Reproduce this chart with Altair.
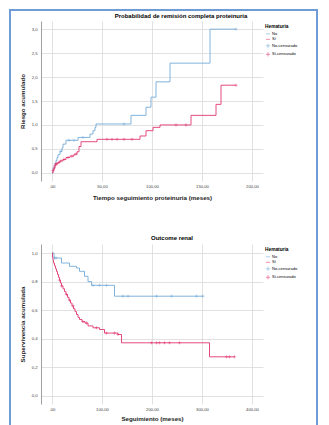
import altair as alt
import pandas as pd

BLUE = "#74aad8"
RED = "#e2386f"
FRAME = "#6f9bd6"
FONT = "Liberation Sans"

CATS = ["No", "Sí", "No-censurado", "Sí-censurado"]

# ---- Top chart: cumulative risk (Probabilidad de remisión completa proteinuria)
top_no_t = [0, 1, 2, 3, 4, 5, 6, 8, 10, 11, 14, 26, 38, 41, 43, 44, 79, 94, 99, 104, 118, 158, 184]
top_no_y = [0, 0.08, 0.14, 0.20, 0.26, 0.32, 0.38, 0.45, 0.52, 0.60, 0.68, 0.74, 0.81, 0.88, 0.95,
            1.02, 1.20, 1.37, 1.58, 1.90, 2.29, 3.00, 3.00]
top_si_t = [0, 1, 2, 3, 4, 6, 8, 11, 14, 18, 22, 25, 27, 29, 45, 88, 94, 101, 108, 139, 164, 169, 184]
top_si_y = [0, 0.05, 0.10, 0.16, 0.19, 0.22, 0.25, 0.28, 0.32, 0.35, 0.39, 0.44, 0.55, 0.65, 0.70,
            0.77, 0.88, 0.95, 1.00, 1.20, 1.43, 1.83, 1.83]
top_no_cens = [9, 17, 22, 31, 72, 184]
top_si_cens = [1, 2, 3, 4, 5, 7, 9, 12, 16, 20, 24, 55, 60, 65, 72, 80, 124, 134, 184]

# ---- Bottom chart: survival (Outcome renal)
bot_no_t = [0, 4, 19, 35, 49, 55, 65, 72, 79, 125, 302]
bot_no_y = [1.0, 0.965, 0.93, 0.907, 0.895, 0.872, 0.837, 0.80, 0.774, 0.698, 0.698]
bot_si_t = [0, 1, 2, 3, 5, 7, 9, 11, 13, 15, 17, 19, 22, 25, 28, 31, 34, 37, 40, 43, 46, 49, 52,
            55, 60, 66, 72, 82, 95, 105, 132, 139, 315, 365]
bot_si_y = [1.0, 0.97, 0.95, 0.93, 0.91, 0.89, 0.87, 0.85, 0.83, 0.81, 0.79, 0.77, 0.75, 0.73,
            0.71, 0.69, 0.67, 0.65, 0.63, 0.61, 0.59, 0.57, 0.55, 0.535, 0.52, 0.51, 0.49, 0.477,
            0.465, 0.44, 0.43, 0.372, 0.274, 0.274]
bot_no_cens = [5, 8, 82, 95, 109, 142, 152, 209, 239, 289, 302]
bot_si_cens = [15, 19, 29, 35, 42, 62, 69, 89, 109, 125, 132, 199, 209, 215, 225, 235, 255, 349, 355, 365]


def step_value(ts, ys, t):
    v = ys[0]
    for ti, yi in zip(ts, ys):
        if ti <= t:
            v = yi
    return v


def curves(no_t, no_y, si_t, si_y):
    return pd.DataFrame(
        [{"t": t, "y": y, "serie": "No"} for t, y in zip(no_t, no_y)]
        + [{"t": t, "y": y, "serie": "Sí"} for t, y in zip(si_t, si_y)]
    )


def censors(no_t, no_y, si_t, si_y, no_c, si_c):
    return pd.DataFrame(
        [{"t": t, "y": step_value(no_t, no_y, t), "serie": "No-censurado"} for t in no_c]
        + [{"t": t, "y": step_value(si_t, si_y, t), "serie": "Sí-censurado"} for t in si_c]
    )


CROSS = "M0,-1V1M-1,0H1"


def km_panel(lines_df, cens_df, title, xtitle, ytitle, xdom, xvals, ydom, yvals, yfmt, title_dx,
             frame=False, xtitle_pad=6, title_offset=3):
    color = alt.Color(
        "serie:N",
        scale=alt.Scale(domain=CATS, range=[BLUE, RED, BLUE, RED]),
        legend=alt.Legend(
            title="Hematuria", orient="none", legendX=224, legendY=3,
            titleFontSize=4.8, titleFont=FONT, titleFontWeight="bold", titlePadding=2,
            labelFontSize=4, labelFont=FONT, symbolSize=18, symbolStrokeWidth=0.8,
            rowPadding=0.5, labelOffset=1, symbolFillColor="transparent",
        ),
    )
    shape = alt.Shape(
        "serie:N",
        scale=alt.Scale(domain=CATS, range=["stroke", "stroke", CROSS, CROSS]),
        legend=alt.Legend(title="Hematuria", orient="none", legendX=224, legendY=3),
    )
    x = alt.X(
        "t:Q", title=xtitle,
        scale=alt.Scale(domain=xdom, nice=False, zero=False),
        axis=alt.Axis(values=xvals, domain=False, ticks=False, labelPadding=3, titlePadding=xtitle_pad,
                      labelExpr="datum.value == 0 ? ',00' : replace(format(datum.value, '.2f'), '.', ',')"),
    )
    y = alt.Y(
        "y:Q", title=ytitle,
        scale=alt.Scale(domain=ydom, nice=False, zero=False),
        axis=alt.Axis(values=yvals, ticks=False, labelPadding=4, titlePadding=6,
                      labelExpr="replace(format(datum.value, '" + yfmt + "'), '.', ',')"),
    )
    line = alt.Chart(lines_df).mark_line(interpolate="step-after", strokeWidth=0.9).encode(
        x=x, y=y, color=color, detail="serie:N"
    )
    pts = alt.Chart(cens_df).mark_point(size=10, strokeWidth=0.7, filled=False).encode(
        x=x, y=y, color=color, shape=shape
    )
    layers = [line, pts]
    if frame:
        one = pd.DataFrame({"k": [0]})
        base = alt.Chart(one).mark_rule(color=FRAME, strokeWidth=2)
        layers += [
            base.encode(x=alt.value(-31), y=alt.value(-12), y2=alt.value(412)),
            base.encode(x=alt.value(276), y=alt.value(-12), y2=alt.value(412)),
            base.encode(x=alt.value(-31), x2=alt.value(276), y=alt.value(-11)),
        ]
    return alt.layer(*layers).properties(
        width=222, height=160,
        title=alt.TitleParams(title, fontSize=6, font=FONT, fontWeight="bold", dx=title_dx,
                              offset=title_offset),
    )


top = km_panel(
    curves(top_no_t, top_no_y, top_si_t, top_si_y),
    censors(top_no_t, top_no_y, top_si_t, top_si_y, top_no_cens, top_si_cens),
    "Probabilidad de remisión completa proteinuria",
    "Tiempo seguimiento proteinuria (meses)", "Riesgo acumulado",
    [-11, 211], [0, 50, 100, 150, 200],
    [-0.17, 3.17], [0, 0.5, 1.0, 1.5, 2.0, 2.5, 3.0], ".1f", 29, frame=True, title_offset=-11,
)
bottom = km_panel(
    curves(bot_no_t, bot_no_y, bot_si_t, bot_si_y),
    censors(bot_no_t, bot_no_y, bot_si_t, bot_si_y, bot_no_cens, bot_si_cens),
    "Outcome renal", "Seguimiento (meses)", "Supervivencia acumulada",
    [-22, 422], [0, 100, 200, 300, 400],
    [-0.056, 1.063], [0, 0.2, 0.4, 0.6, 0.8, 1.0], ".1f", 20, xtitle_pad=4,
)

chart = (
    alt.vconcat(top, bottom, spacing=63, bounds="flush")
    .resolve_scale(color="independent", shape="independent")
    .resolve_legend(color="independent", shape="independent")
    .properties(padding={"left": 1, "top": 0, "right": 2, "bottom": 2})
    .configure_view(stroke=None)
    .configure_axis(
        labelFont=FONT, labelFontSize=4.2, labelColor="#444",
        titleFont=FONT, titleFontSize=6.2, titleFontWeight="bold", titleColor="#222",
        gridColor="#d9d9d9", gridWidth=0.8, domainColor="#888", domainWidth=0.8,
    )
)

chart.save("out.html", embed_options={"renderer": "svg", "actions": False})
